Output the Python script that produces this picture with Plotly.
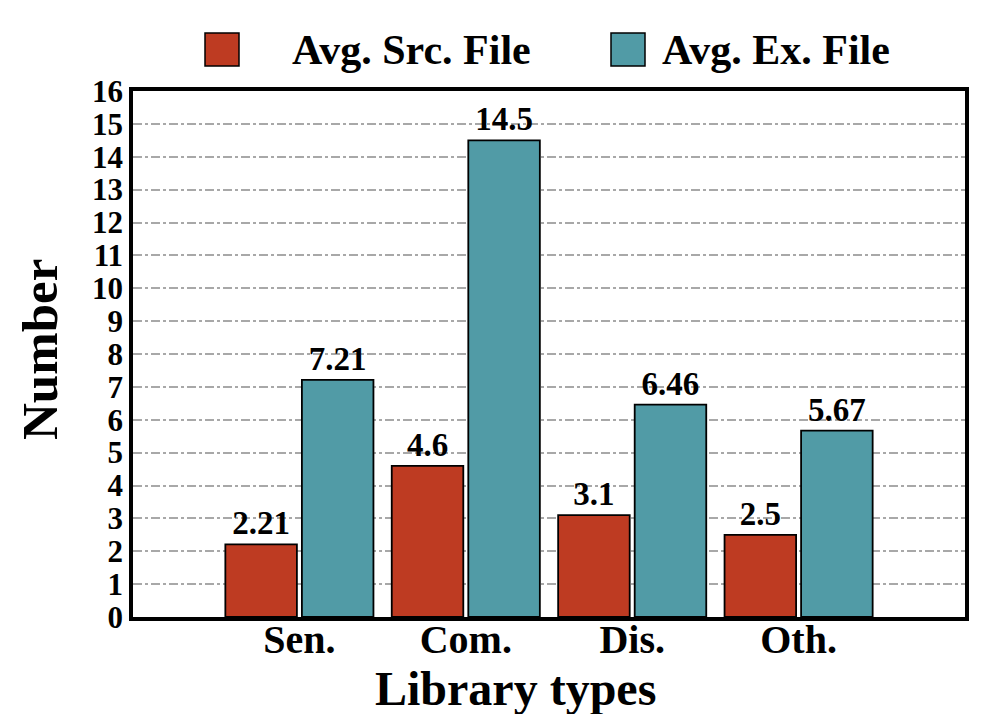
import plotly.graph_objects as go

categories = ["Sen.", "Com.", "Dis.", "Oth."]
src_values = [2.21, 4.6, 3.1, 2.5]
ex_values = [7.21, 14.5, 6.46, 5.67]
src_labels = ["2.21", "4.6", "3.1", "2.5"]
ex_labels = ["7.21", "14.5", "6.46", "5.67"]
series_names = ["Avg. Src. File", "Avg. Ex. File"]
y_ticks = list(range(0, 17))

RED = "#BE3B22"
TEAL = "#519BA6"
FONT = "Liberation Serif"

# page-pixel plot box of the reference (figure sits 8px into the page due to body margin)
PL, PR, PT, PB = 133, 965, 91, 617
OFF = 8


def px(x):
    return (x - PL) / (PR - PL)


def py(y):
    return (PB - y) / (PB - PT)


fig = go.Figure()
fig.add_trace(go.Bar(
    x=categories, y=src_values, name=series_names[0],
    marker=dict(color=RED, line=dict(color="black", width=1.8)),
    width=0.43, offset=-0.445,
    text=src_labels, textposition="outside", cliponaxis=False,
    textfont=dict(family=FONT, size=33, color="black", weight="bold"),
))
fig.add_trace(go.Bar(
    x=categories, y=ex_values, name=series_names[1],
    marker=dict(color=TEAL, line=dict(color="black", width=1.8)),
    width=0.43, offset=0.015,
    text=ex_labels, textposition="outside", cliponaxis=False,
    textfont=dict(family=FONT, size=33, color="black", weight="bold"),
))

fig.update_layout(
    width=987 - OFF, height=714 - OFF,
    margin=dict(l=PL - OFF, r=987 - PR, t=PT - OFF, b=714 - PB),
    plot_bgcolor="white", paper_bgcolor="white",
    showlegend=False,
    font=dict(family=FONT, color="black"),
    barmode="group",
)
fig.update_xaxes(
    type="category", range=[-1, 4],
    showline=True, linecolor="black", linewidth=3.5, mirror=True,
    showgrid=False, ticks="", ticklabelstandoff=-16,
    tickfont=dict(family=FONT, size=40, color="black", weight="bold"),
)
fig.update_yaxes(
    range=[0, 16], tickvals=y_ticks, ticktext=[str(v) for v in y_ticks],
    showline=True, linecolor="black", linewidth=3.5, mirror=True,
    showgrid=True, gridcolor="#A8A8A8", griddash="dashdot", gridwidth=1.8,
    ticks="", zeroline=False,
    tickfont=dict(family=FONT, size=31, color="black", weight="bold"),
)

# Axis titles
fig.add_annotation(text="<b>Library types</b>", xref="paper", yref="paper",
                   x=px(515), y=py(688), xanchor="center", yanchor="middle", showarrow=False,
                   font=dict(family=FONT, size=48, color="black"))
fig.add_annotation(text="<b>Number</b>", xref="paper", yref="paper",
                   x=px(40), y=py(350), xanchor="center", yanchor="middle",
                   textangle=-90, showarrow=False,
                   font=dict(family=FONT, size=51, color="black"))

# Legend drawn at top
legend_items = [(RED, series_names[0], 205, 290), (TEAL, series_names[1], 611, 660)]
for color, name, sx, tx in legend_items:
    fig.add_shape(type="rect", xref="paper", yref="paper",
                  x0=px(sx), x1=px(sx + 34),
                  y0=py(66), y1=py(33),
                  fillcolor=color, line=dict(color="black", width=1.5))
    fig.add_annotation(text="<b>" + name + "</b>", xref="paper", yref="paper",
                       x=px(tx), y=py(50), xanchor="left", yanchor="middle",
                       showarrow=False, font=dict(family=FONT, size=42, color="black"))

fig.write_html("out.html")
